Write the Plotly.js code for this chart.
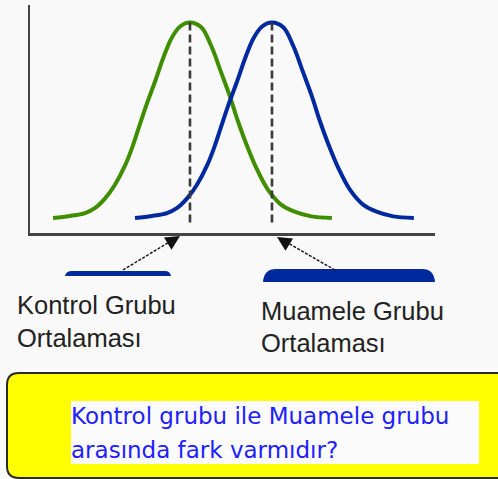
<!DOCTYPE html>
<html>
<head>
<meta charset="utf-8">
<script src="https://cdn.plot.ly/plotly-3.0.1.min.js"></script>
<style>
  html, body { margin: 0; padding: 0; background: #f9f9f9; }
  #chart { width: 498px; height: 479px; }
</style>
</head>
<body>
<div id="chart"></div>
<script>
// Control group distribution (green)
const controlX = [16.6, 20.7, 24.4, 26.8, 29.3, 31.7, 34.2, 35.9, 37.8, 39.4, 41.5, 43.5, 45.5, 47.6, 50, 52.8, 55.2, 57.6, 59.7, 61.7, 63.8, 66.2, 69.0, 72.3, 75.5, 79.6, 84.6];
const controlY = [0, 0.01, 0.025, 0.05, 0.10, 0.17, 0.27, 0.36, 0.48, 0.58, 0.70, 0.82, 0.92, 0.98, 1.0, 0.975, 0.88, 0.745, 0.625, 0.495, 0.375, 0.255, 0.145, 0.067, 0.032, 0.008, 0];

// Treatment group distribution (blue)
const treatX = [36.6, 40.7, 44.4, 46.8, 49.3, 51.7, 54.2, 55.9, 57.8, 59.4, 61.5, 63.5, 65.5, 67.6, 70, 72.8, 75.2, 77.6, 79.7, 81.7, 83.8, 86.2, 89.0, 92.3, 95.5, 99.6, 104.6];
const treatY = [0, 0.01, 0.025, 0.05, 0.10, 0.17, 0.27, 0.36, 0.48, 0.58, 0.70, 0.82, 0.92, 0.98, 1.0, 0.975, 0.88, 0.745, 0.625, 0.495, 0.375, 0.255, 0.145, 0.067, 0.032, 0.008, 0];

// Group means (dashed guide lines)
const means = [50, 70];
const meanTop = 1.0;
const meanBottom = -0.026;

// Labels
const controlLabel = ["Kontrol Grubu", "Ortalaması"];
const treatLabel = ["Muamele Grubu", "Ortalaması"];
const question = ["Kontrol grubu ile Muamele grubu", "arasında fark varmıdır?"];

const GREEN = "#3f8e00";
const BLUE = "#00299e";
const AXIS = "#444444";

// plot area: left 30, top 5, right 435, bottom 233 (pixels)
const px = x => (x - 30) / 405;
const py = y => (233 - y) / 228;
const P = (x, y) => px(x).toFixed(4) + "," + py(y).toFixed(4);

const traces = [
  { x: controlX, y: controlY, mode: "lines", line: { color: GREEN, width: 4, shape: "spline", smoothing: 1 }, hoverinfo: "skip" },
  { x: treatX, y: treatY, mode: "lines", line: { color: BLUE, width: 4, shape: "spline", smoothing: 1 }, hoverinfo: "skip" }
];
means.forEach(m => traces.push({
  x: [m, m], y: [meanTop, meanBottom], mode: "lines",
  line: { color: "#3a3a3a", width: 2.6, dash: "8px,4px" }, hoverinfo: "skip"
}));

const shapes = [
  // yellow question panel
  { type: "path", xref: "paper", yref: "paper",
    path: "M " + P(7, 385) + " Q " + P(7, 373) + " " + P(19, 373) + " L " + P(520, 373) +
          " L " + P(520, 478) + " L " + P(19, 478) + " Q " + P(7, 478) + " " + P(7, 466) + " Z",
    fillcolor: "#ffff00", line: { color: "#2a2a2a", width: 2 } },
  // white backing behind the question text
  { type: "rect", xref: "paper", yref: "paper", x0: px(71), x1: px(479), y0: py(401), y1: py(464),
    fillcolor: "#fbfbfb", line: { width: 0 } },
  // control mean bar
  { type: "path", xref: "paper", yref: "paper",
    path: "M " + P(65, 276) + " Q " + P(66, 271) + " " + P(72, 271) + " L " + P(165, 271) +
          " Q " + P(170, 271) + " " + P(171, 276) + " Z",
    fillcolor: BLUE, line: { width: 0 } },
  // treatment mean bar
  { type: "path", xref: "paper", yref: "paper",
    path: "M " + P(263, 282) + " Q " + P(264, 269) + " " + P(276, 269) + " L " + P(422, 269) +
          " Q " + P(434, 269) + " " + P(435, 282) + " Z",
    fillcolor: BLUE, line: { width: 0 } },
  // pointer lines
  { type: "line", xref: "paper", yref: "paper", x0: px(123), y0: py(270), x1: px(176), y1: py(238),
    line: { color: "#111", width: 1.4, dash: "3px,1.5px" } },
  { type: "line", xref: "paper", yref: "paper", x0: px(335), y0: py(270), x1: px(281), y1: py(239),
    line: { color: "#111", width: 1.4, dash: "3px,1.5px" } }
];

const labelFont = { family: "Liberation Sans, Arial, sans-serif", size: 25.5, color: "#222222" };
const qFont = { family: "DejaVu Sans, sans-serif", size: 23, color: "#2020ff" };
const txt = (t, x, y, font) => ({
  text: t, xref: "paper", yref: "paper", x: px(x), y: py(y),
  xanchor: "left", yanchor: "middle", showarrow: false, font: font, borderpad: 0
});

const annotations = [
  // arrow heads
  { xref: "paper", yref: "paper", x: px(180), y: py(236), ax: -13, ay: 8, text: "",
    showarrow: true, arrowhead: 2, arrowsize: 1.8, arrowwidth: 1.6, arrowcolor: "#111" },
  { xref: "paper", yref: "paper", x: px(277), y: py(237), ax: 13, ay: 8, text: "",
    showarrow: true, arrowhead: 2, arrowsize: 1.8, arrowwidth: 1.6, arrowcolor: "#111" },
  txt(controlLabel[0], 16, 305, labelFont),
  txt(controlLabel[1], 16, 338, labelFont),
  txt(treatLabel[0], 260, 311, labelFont),
  txt(treatLabel[1], 260, 343, labelFont),
  txt(question[0], 70, 416, qFont),
  txt(question[1], 70, 450, qFont)
];

const layout = {
  width: 498, height: 479,
  margin: { l: 30, r: 63, t: 5, b: 246, pad: 0 },
  paper_bgcolor: "#f9f9f9", plot_bgcolor: "rgba(0,0,0,0)",
  showlegend: false,
  xaxis: { range: [10.98, 109.76], showline: true, linecolor: AXIS, linewidth: 2.5,
           showgrid: false, zeroline: false, showticklabels: false, ticks: "", fixedrange: true },
  yaxis: { range: [-0.077, 1.09], showline: true, linecolor: AXIS, linewidth: 2.5,
           showgrid: false, zeroline: false, showticklabels: false, ticks: "", fixedrange: true },
  shapes: shapes,
  annotations: annotations
};

Plotly.newPlot("chart", traces, layout, { displayModeBar: false, staticPlot: true });
</script>
</body>
</html>
